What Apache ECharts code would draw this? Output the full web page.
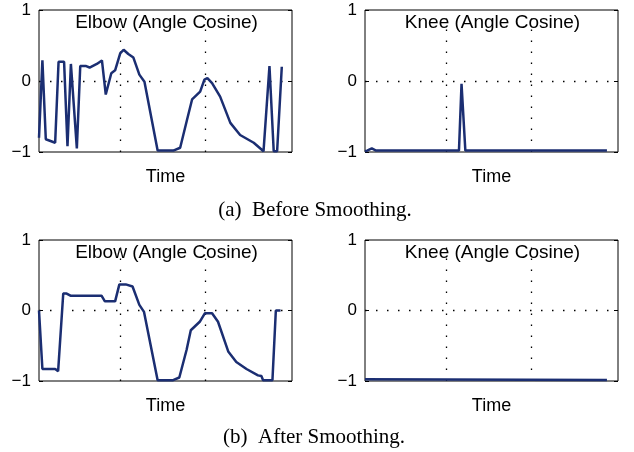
<!DOCTYPE html>
<html>
<head>
<meta charset="utf-8">
<style>
  html, body { margin: 0; padding: 0; background: #fff; }
  #chart { width: 634px; height: 452px; }
</style>
<script src="https://cdn.jsdelivr.net/npm/echarts@6/dist/echarts.min.js"></script>
</head>
<body>
<div id="chart"></div>
<script>
// frame index (time) and angle cosine
var elbowBeforeT = [1.0, 1.8, 2.6, 4.8, 5.6, 6.9, 7.7, 8.5, 9.9, 10.7, 12.1, 12.9, 14.6, 15.8, 16.7, 18.0, 18.9, 20.1, 20.9, 22.0, 23.2, 24.6, 25.8, 28.9, 32.6, 34.2, 35.8, 37.0, 38.9, 39.9, 40.6, 41.7, 43.6, 46.0, 48.3, 51.5, 53.8, 55.2, 56.2, 57.0, 58.1];
var elbowBeforeV = [-0.80, 0.29, -0.82, -0.87, 0.27, 0.27, -0.92, 0.24, -0.95, 0.21, 0.21, 0.19, 0.24, 0.29, -0.19, 0.11, 0.15, 0.39, 0.44, 0.38, 0.33, 0.09, -0.01, -0.98, -0.98, -0.94, -0.55, -0.26, -0.15, 0.02, 0.04, -0.03, -0.22, -0.59, -0.76, -0.87, -0.99, 0.21, -0.99, -0.99, 0.20];

var kneeBeforeT = [1.0, 1.5, 2.6, 3.6, 23.1, 23.7, 24.6, 57.9];
var kneeBeforeV = [-0.99, -0.98, -0.95, -0.98, -0.98, -0.04, -0.98, -0.98];

var elbowAfterT = [1.0, 1.8, 4.8, 5.5, 6.7, 7.5, 8.4, 15.7, 16.5, 18.9, 19.9, 21.4, 23.0, 24.6, 25.7, 28.9, 32.4, 34.0, 35.7, 36.7, 38.8, 40.0, 41.7, 43.1, 45.5, 47.4, 49.8, 52.5, 53.3, 53.7, 55.9, 56.7, 57.8];
var elbowAfterV = [0.0, -0.83, -0.83, -0.86, 0.24, 0.24, 0.21, 0.21, 0.13, 0.13, 0.37, 0.37, 0.34, 0.08, -0.02, -0.99, -0.99, -0.95, -0.56, -0.28, -0.16, -0.04, -0.04, -0.16, -0.58, -0.73, -0.83, -0.92, -0.93, -0.99, -0.99, 0.0, 0.0];

var kneeAfterT = [1.0, 1.4, 57.9];
var kneeAfterV = [-0.975, -0.985, -0.985];

var yTicks = [-1, 0, 1];
var xGridTicks = [20, 40];
var timeRange = [1, 60.5];

var panelTitles = ["Elbow (Angle Cosine)", "Knee (Angle Cosine)", "Elbow (Angle Cosine)", "Knee (Angle Cosine)"];
var captions = ["(a)  Before Smoothing.", "(b)  After Smoothing."];

var lineColor = "#1b2e72";
var sans = "Liberation Sans, Arial, Helvetica, sans-serif";
var serif = "Liberation Serif, Times New Roman, serif";
var dotted = [1.5, 9.5];

var boxes = [
  { left: 39, top: 10, width: 253, height: 142 },
  { left: 365, top: 10, width: 253, height: 142 },
  { left: 39, top: 240, width: 253, height: 141 },
  { left: 365, top: 240, width: 253, height: 141 },
];

var seriesData = [
  [elbowBeforeT, elbowBeforeV],
  [kneeBeforeT, kneeBeforeV],
  [elbowAfterT, elbowAfterV],
  [kneeAfterT, kneeAfterV],
];

function pairs(t, v) {
  return t.map(function (x, i) {
    return [x, v[i]];
  });
}

var grid = [], xAxis = [], yAxis = [], series = [], graphic = [];

boxes.forEach(function (b, i) {
  grid.push({
    left: b.left,
    top: b.top,
    width: b.width,
    height: b.height,
    show: true,
    borderColor: "#000",
    borderWidth: 1,
    backgroundColor: "#fff",
    outerBoundsMode: "none",
  });
  xAxis.push({
    type: "value",
    gridIndex: i,
    min: timeRange[0],
    max: timeRange[1],
    name: "Time",
    nameLocation: "middle",
    nameGap: 16,
    nameTextStyle: { fontFamily: sans, fontSize: 18, color: "#000" },
    axisLine: { show: false },
    axisTick: { show: false },
    axisLabel: { show: false },
    splitLine: { show: false },
  });
  // left axis with labels
  yAxis.push({
    type: "value",
    gridIndex: i,
    min: yTicks[0],
    max: yTicks[2],
    interval: 1,
    axisLine: { show: false },
    axisTick: { show: true, inside: true, length: 4, lineStyle: { color: "#000" } },
    axisLabel: {
      margin: 8,
      fontFamily: sans,
      fontSize: 17,
      color: "#000",
      formatter: function (v) {
        return v < 0 ? "\u2212" + Math.abs(v) : String(v);
      },
    },
    splitLine: {
      show: true,
      showMinLine: false,
      showMaxLine: false,
      lineStyle: { color: "#000", width: 1.3, type: dotted },
    },
  });
  // right axis, ticks only
  yAxis.push({
    type: "value",
    gridIndex: i,
    position: "right",
    min: yTicks[0],
    max: yTicks[2],
    interval: 1,
    axisLine: { show: false },
    axisTick: { show: true, inside: true, length: 4, lineStyle: { color: "#000" } },
    axisLabel: { show: false },
    splitLine: { show: false },
  });
  series.push({
    type: "line",
    xAxisIndex: i,
    yAxisIndex: i * 2,
    data: pairs(seriesData[i][0], seriesData[i][1]),
    showSymbol: false,
    symbol: "none",
    lineStyle: { color: lineColor, width: 2.5 },
    z: 5,
    markLine: {
      silent: true,
      symbol: "none",
      label: { show: false },
      lineStyle: { color: "#000", width: 1.3, type: dotted },
      data: xGridTicks.map(function (x) {
        return { xAxis: x };
      }),
      z: 1,
    },
  });
  graphic.push({
    type: "text",
    x: b.left + b.width / 2 + 1,
    y: b.top + 13,
    style: {
      text: panelTitles[i],
      fontFamily: sans,
      fontSize: 19,
      fill: "#000",
      textAlign: "center",
      textVerticalAlign: "middle",
    },
    z: 10,
  });
});

graphic.push({
  type: "text",
  x: 315,
  y: 210,
  style: { text: captions[0], fontFamily: serif, fontSize: 21, fill: "#000", textAlign: "center", textVerticalAlign: "middle" },
});
graphic.push({
  type: "text",
  x: 314,
  y: 437,
  style: { text: captions[1], fontFamily: serif, fontSize: 21, fill: "#000", textAlign: "center", textVerticalAlign: "middle" },
});

var chart = echarts.init(document.getElementById("chart"));
chart.setOption({
  animation: false,
  backgroundColor: "#fff",
  grid: grid,
  xAxis: xAxis,
  yAxis: yAxis,
  series: series,
  graphic: graphic,
});
</script>
</body>
</html>
